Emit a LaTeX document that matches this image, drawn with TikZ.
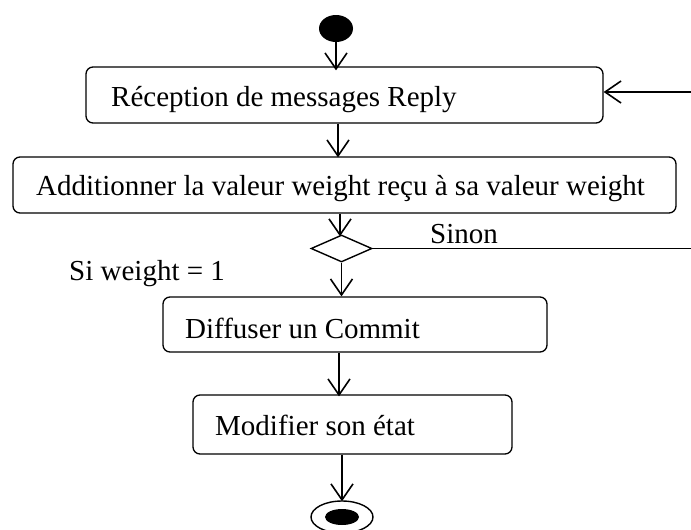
\documentclass[tikz,border=0pt]{standalone}
\usepackage{fontspec}
\setmainfont{Liberation Serif}
\usetikzlibrary{arrows.meta,shapes.geometric}
\begin{document}
\begin{tikzpicture}[x=1pt,y=-1pt,
  box/.style={draw, line width=1.3pt, rounded corners=7pt, inner sep=0pt},
  flow/.style={line width=1.6pt, -{Straight Barb[length=16pt,width=22pt,line width=1.6pt]}},
  plain/.style={line width=1.4pt},
  lbl/.style={anchor=base west, inner sep=0pt, font=\fontsize{29}{34}\selectfont}
]
\useasboundingbox (0,0) rectangle (691,530);

% initial and final states
\node[ellipse, fill=black, minimum width=34, minimum height=27, inner sep=0pt] (start) at (336,28.5) {};
\node[ellipse, draw, line width=1.4pt, minimum width=62, minimum height=32, inner sep=0pt] (stop) at (342,517) {};
\node[ellipse, fill=black, minimum width=34, minimum height=16, inner sep=0pt] (stopdot) at (342,517) {};

% activity boxes
\node[box, minimum width=517, minimum height=56] (recv) at (344.5,95) {};
\node[box, minimum width=663, minimum height=56] (add) at (344.5,185) {};
\node[box, minimum width=384, minimum height=55] (commit) at (355,324.5) {};
\node[box, minimum width=319, minimum height=59] (state) at (352.5,424.5) {};

% decision
\node[diamond, draw, line width=1.4pt, minimum width=61, minimum height=27, inner sep=0pt] (dec) at (341.5,248.5) {};

% texts
\node[lbl] (trecv) at (111,106) {Réception de messages Reply};
\node[lbl] (tadd) at (36,195) {Additionner la valeur weight reçu à sa valeur weight};
\node[lbl] (tcommit) at (185,338) {Diffuser un Commit};
\node[lbl] (tstate) at (215,435) {Modifier son état};
\node[lbl] (tsinon) at (430,243) {Sinon};
\node[lbl] (tsi) at (69,280) {Si weight = 1};

% loop-back ends
\coordinate (back) at (691,92);
\coordinate (exit) at (691,248.5);

% connectors
\draw[flow] (start.south) -- ([yshift=-4pt]start.south |- recv.north);
\draw[flow] ([xshift=-6.5pt]recv.south) -- ([xshift=-6.5pt,yshift=-1pt]recv.south |- add.north);
\draw[flow] ([xshift=-4.5pt]add.south) -- ([xshift=-4.5pt,yshift=-2pt]add.south |- dec.north);
\draw[flow] (dec.south) -- (dec.south |- commit.north);
\draw[flow] ([xshift=-16pt]commit.south) -- ([xshift=-16pt,yshift=-2pt]commit.south |- state.north);
\draw[flow] ([xshift=-10.5pt]state.south) -- ([xshift=-10.5pt,yshift=-1pt]state.south |- stop.north);
\draw[flow] (back) -- (back -| recv.east);
\draw[plain] (dec.east) -- (exit);
\end{tikzpicture}
\end{document}
